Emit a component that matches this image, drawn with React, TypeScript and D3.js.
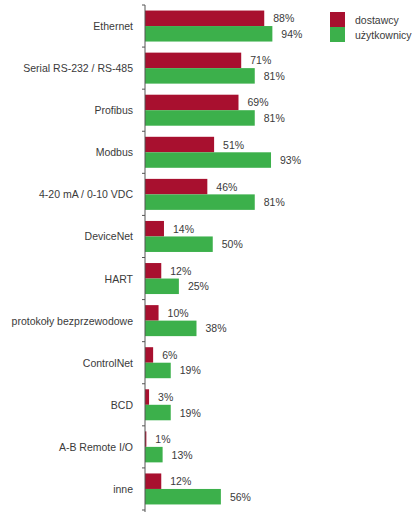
import React from "react";
import * as d3 from "d3";

const categories = [
  "Ethernet",
  "Serial RS-232 / RS-485",
  "Profibus",
  "Modbus",
  "4-20 mA / 0-10 VDC",
  "DeviceNet",
  "HART",
  "protokoły bezprzewodowe",
  "ControlNet",
  "BCD",
  "A-B Remote I/O",
  "inne",
];
const dostawcy = [88, 71, 69, 51, 46, 14, 12, 10, 6, 3, 1, 12];
const uzytkownicy = [94, 81, 81, 93, 81, 50, 25, 38, 19, 19, 13, 56];
const seriesNames = ["dostawcy", "użytkownicy"];
const colors = ["#a8102f", "#3cb04b"];

export default function App() {
  const W = 412;
  const H = 512;
  const x0 = 145;
  const x = d3.scaleLinear().domain([0, 100]).range([x0, x0 + 135.5]);
  const y = d3.scaleBand<string>().domain(categories).range([5, 510]).paddingInner(0).paddingOuter(0);
  const bw = y.bandwidth();
  const barH = 15.5;
  const padTop = (bw - 2 * barH) / 2;
  const font = "'Liberation Sans', Arial, sans-serif";
  const textColor = "#3a3a3a";
  const series = [dostawcy, uzytkownicy];
  const ticks = [...categories.map((c) => y(c) as number), 510];

  return (
    <svg
      width={W}
      height={H}
      style={{ position: "absolute", left: 0, top: 0, background: "#fff" }}
      fontFamily={font}
    >
      {categories.map((c, i) => {
        const top = (y(c) as number) + padTop;
        return (
          <g key={c}>
            <text
              x={x0 - 12}
              y={(y(c) as number) + bw / 2}
              textAnchor="end"
              dominantBaseline="central"
              fontSize={10.5}
              fill={textColor}
            >
              {c}
            </text>
            {series.map((s, k) => (
              <g key={k}>
                <rect
                  x={x(0)}
                  y={top + k * barH}
                  width={x(s[i]) - x(0)}
                  height={barH}
                  fill={colors[k]}
                />
                <text
                  x={x(s[i]) + 9}
                  y={top + k * barH + barH / 2}
                  dominantBaseline="central"
                  fontSize={10.5}
                  fill={textColor}
                >
                  {s[i]}%
                </text>
              </g>
            ))}
          </g>
        );
      })}
      <line x1={x0} x2={x0} y1={5} y2={H} stroke="#555" strokeWidth={1} />
      {ticks.map((t, i) => (
        <line key={i} x1={x0 - 3} x2={x0} y1={t} y2={t} stroke="#555" strokeWidth={1} />
      ))}
      {seriesNames.map((n, k) => (
        <g key={n}>
          <rect x={330} y={12 + k * 15} width={15} height={15} fill={colors[k]} />
          <text
            x={355}
            y={19.5 + k * 15}
            dominantBaseline="central"
            fontSize={10.5}
            fill={textColor}
          >
            {n}
          </text>
        </g>
      ))}
    </svg>
  );
}
